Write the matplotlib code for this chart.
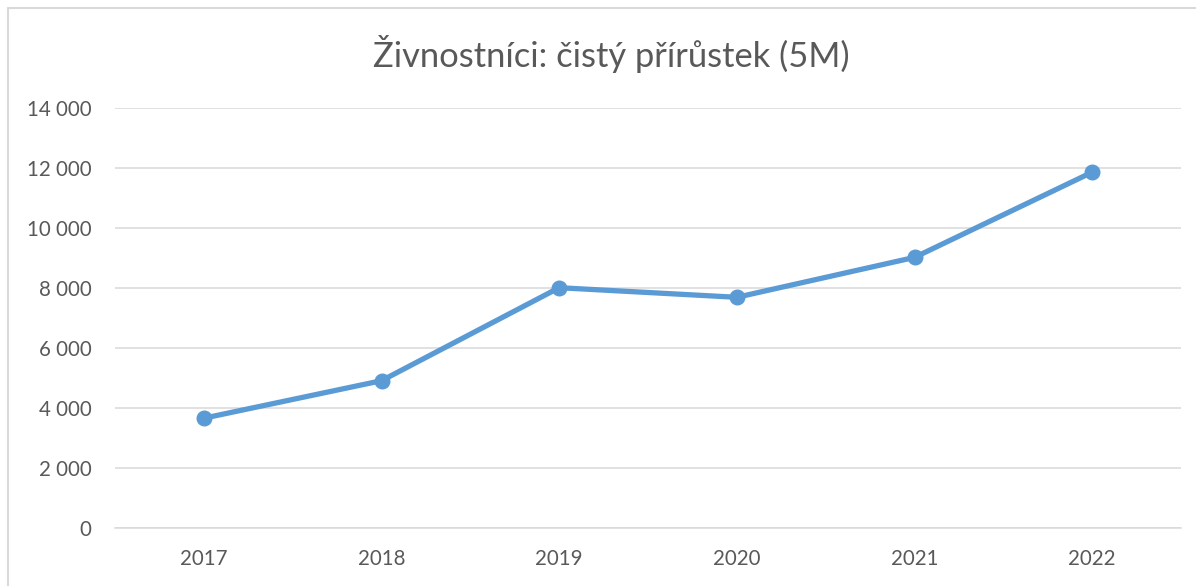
import matplotlib.pyplot as plt
import matplotlib.patches as patches
from matplotlib.ticker import FuncFormatter

years = ["2017", "2018", "2019", "2020", "2021", "2022"]
net_growth = [3650, 4900, 8000, 7680, 9010, 11850]

title = "Živnostníci: čistý přírůstek (5M)"
line_color = "#5b9bd5"
text_color = "#595959"
grid_color = "#d9d9d9"

plt.rcParams['font.family'] = ['Lato', 'DejaVu Sans']

fig = plt.figure(figsize=(11.96, 5.86), dpi=100)
ax = fig.add_axes([115 / 1196, 58.3 / 586, 1066 / 1196, 420 / 586])

# light frame round the chart area, like the spreadsheet export
frame = patches.Rectangle((8 / 1196, -0.05), 1.2, (586 - 8) / 586 + 0.05,
                          transform=fig.transFigure, fill=False,
                          edgecolor=grid_color, linewidth=1.5)
fig.patches.append(frame)

x = range(len(years))
ax.plot(x, net_growth, color=line_color, linewidth=3.8, marker='o',
        markersize=10.5, solid_capstyle='round', zorder=3)

ax.set_xlim(-0.5, len(years) - 0.5)
ax.set_ylim(0, 14000)
ax.set_yticks(range(0, 14001, 2000))
ax.yaxis.set_major_formatter(FuncFormatter(lambda v, p: f"{int(v):,}".replace(",", " ")))
ax.set_xticks(list(x))
ax.set_xticklabels(years)

ax.grid(axis='y', color=grid_color, linewidth=1.1)
ax.set_axisbelow(True)
for s in ['top', 'right', 'left']:
    ax.spines[s].set_visible(False)
ax.spines['bottom'].set_color(grid_color)
ax.spines['bottom'].set_linewidth(1.1)
ax.tick_params(axis='both', length=0, labelsize=14.8, colors=text_color)
ax.tick_params(axis='y', pad=17)
ax.tick_params(axis='x', pad=15)

fig.text(611 / 1196, 1 - 54 / 586, title,
         ha='center', va='center', fontsize=24.8, color=text_color)

fig.savefig("out.png", dpi=100)
